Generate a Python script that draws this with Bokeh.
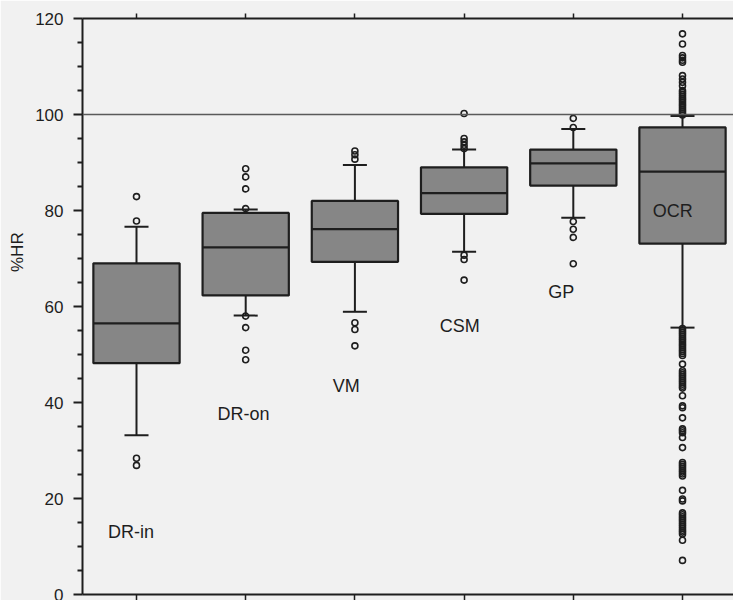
from bokeh.plotting import figure
from bokeh.models import ColumnDataSource, FixedTicker, LinearAxis, Range1d, Span
from bokeh.core.properties import value
from bokeh.embed import file_html
from bokeh.resources import INLINE

# ---- data ----
categories = ["DR-in", "DR-on", "VM", "CSM", "GP", "OCR"]
q1 = [48.2, 62.3, 69.3, 79.3, 85.2, 73.1]
median = [56.5, 72.3, 76.1, 83.6, 89.8, 88.1]
q3 = [69.0, 79.5, 82.0, 89.0, 92.7, 97.3]
whisker_low = [33.2, 58.1, 58.9, 71.4, 78.5, 55.6]
whisker_high = [76.6, 80.2, 89.5, 92.7, 97.0, 99.7]

outliers_dr_in = [82.9, 77.8, 28.4, 26.9]
outliers_dr_on = [88.7, 87.0, 84.5, 80.4, 58.0, 55.6, 50.9, 48.9]
outliers_vm = [92.4, 91.6, 90.7, 56.6, 55.2, 51.8]
outliers_csm = [100.2, 95.0, 94.3, 93.6, 92.9, 70.7, 69.8, 65.5]
outliers_gp = [99.2, 97.3, 77.7, 76.1, 74.4, 68.9]
outliers_ocr = [116.8, 114.7, 112.3, 111.8, 111.3, 110.9, 108.1, 107.4, 106.7,
                106.0, 105.0, 104.6, 104.2, 103.8, 103.4, 103.0, 102.6, 102.2,
                101.8, 101.4, 101.0, 100.6, 100.2, 99.9,
                55.4, 55.0, 54.6, 54.2, 53.8, 53.4, 53.0, 52.6, 52.2, 51.8,
                51.4, 51.0, 50.6, 50.2, 49.8, 48.0, 46.6, 46.2, 45.8, 45.4,
                45.0, 44.6, 44.2, 43.8, 43.4, 43.0, 41.4, 39.3, 38.9, 36.8,
                34.5, 34.1, 33.7, 32.7, 30.6, 27.5, 27.1, 26.7, 26.3, 25.9,
                25.5, 25.1, 24.7, 21.7, 19.9, 19.5, 17.0, 16.6, 16.2, 15.8,
                15.4, 15.0, 14.6, 14.2, 13.8, 13.4, 13.0, 12.6, 11.3, 7.1]
outlier_lists = [outliers_dr_in, outliers_dr_on, outliers_vm, outliers_csm,
                 outliers_gp, outliers_ocr]

# category label placement inside the plot (data coords)
label_x = [0.95, 1.98, 2.92, 3.96, 4.89, 5.91]
label_y = [13.0, 37.6, 43.4, 55.9, 63.1, 80.0]

y_ticks = [0, 20, 40, 60, 80, 100, 120]
y_title = "%HR"
reference_line = 100

# ---- build ----
pos = [i + 1 for i in range(len(categories))]
BOX_W = 0.79
CAP_W = 0.22
FONT = "Liberation Sans"
BG = "#f1f1f1"
INK = "#1e1e1e"

src = ColumnDataSource(dict(
    x=pos, q1=q1, med=median, q3=q3, lo=whisker_low, hi=whisker_high,
    x0=[p - BOX_W / 2 for p in pos], x1=[p + BOX_W / 2 for p in pos],
    c0=[p - CAP_W / 2 for p in pos], c1=[p + CAP_W / 2 for p in pos],
))

ox, oy = [], []
for p_, lst in zip(pos, outlier_lists):
    ox += [p_] * len(lst)
    oy += lst
osrc = ColumnDataSource(dict(x=ox, y=oy))

lsrc = ColumnDataSource(dict(x=label_x, y=label_y, t=categories))

p = figure(width=733, height=600, output_backend="svg", toolbar_location=None,
           x_range=Range1d(0.5055, 6.467), y_range=Range1d(0, 120),
           min_border_left=82, min_border_right=0, min_border_top=18,
           min_border_bottom=6)
p.background_fill_color = BG
p.border_fill_color = BG
p.outline_line_color = None
p.grid.visible = False

# y axis
ya = p.yaxis[0]
ya.ticker = FixedTicker(ticks=y_ticks,
                        minor_ticks=[v for v in range(0, 121, 5) if v % 20])
ya.major_tick_out = 9
ya.major_tick_in = 0
ya.minor_tick_out = 5
ya.minor_tick_in = 0
ya.major_tick_line_width = 2
ya.minor_tick_line_width = 2
ya.axis_line_width = 2
ya.axis_line_color = INK
ya.major_tick_line_color = INK
ya.minor_tick_line_color = INK
ya.major_label_text_font = FONT
ya.major_label_text_font_size = "17px"
ya.major_label_text_color = INK
ya.major_label_standoff = 10
# pad with no-break spaces so the title sits above the axis centre, as drawn
ya.axis_label = "\u00a0" * 23 + y_title
ya.axis_label_text_font = FONT
ya.axis_label_text_font_size = "17px"
ya.axis_label_text_font_style = "normal"
ya.axis_label_text_color = INK
ya.axis_label_standoff = 5

empty = {t: "" for t in pos}

# bottom x axis
xa = p.xaxis[0]
xa.ticker = FixedTicker(ticks=pos, minor_ticks=[])
xa.major_tick_out = 6
xa.major_tick_in = 0
xa.major_tick_line_width = 1.5
xa.major_tick_line_color = INK
xa.axis_line_width = 2
xa.axis_line_color = INK
xa.major_label_overrides = empty
xa.major_label_text_font_size = "0px"
xa.major_label_standoff = 0

# top axis
ta = LinearAxis(ticker=FixedTicker(ticks=pos, minor_ticks=[]))
ta.major_tick_out = 5
ta.major_tick_in = 0
ta.major_tick_line_width = 1.5
ta.major_tick_line_color = INK
ta.axis_line_width = 2
ta.axis_line_color = INK
ta.major_label_overrides = empty
ta.major_label_text_font_size = "0px"
ta.major_label_standoff = 0
p.add_layout(ta, "above")

# reference line
p.add_layout(Span(location=reference_line, dimension="width",
                  line_color="#5a5a5a", line_width=1.6))

# whiskers
p.segment(x0="x", x1="x", y0="q3", y1="hi", source=src, line_color=INK,
          line_width=2)
p.segment(x0="x", x1="x", y0="q1", y1="lo", source=src, line_color=INK,
          line_width=2)
p.segment(x0="c0", x1="c1", y0="hi", y1="hi", source=src, line_color=INK,
          line_width=2)
p.segment(x0="c0", x1="c1", y0="lo", y1="lo", source=src, line_color=INK,
          line_width=2)

# boxes
p.vbar(x="x", width=BOX_W, bottom="q1", top="q3", source=src,
       fill_color="#868686", line_color=INK, line_width=2.2)
p.segment(x0="x0", x1="x1", y0="med", y1="med", source=src, line_color=INK,
          line_width=2.2)

# outliers
p.scatter(x="x", y="y", source=osrc, marker="circle", size=6,
          fill_color=None, line_color=INK, line_width=1.6)

# category labels
p.text(x="x", y="y", text="t", source=lsrc, text_font=value(FONT),
       text_font_size="18px", text_color=INK, text_align="center",
       text_baseline="middle")

open("out.html", "w").write(file_html(p, INLINE))
